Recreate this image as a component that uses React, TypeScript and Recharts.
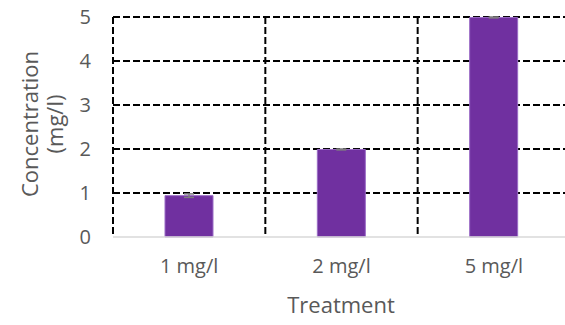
import React from "react";
import {
  BarChart,
  Bar,
  XAxis,
  YAxis,
  CartesianGrid,
  ErrorBar,
  Label,
} from "recharts";

const treatments = ["1 mg/l", "2 mg/l", "5 mg/l"];
const concentration = [0.94, 1.99, 4.99];
const errors = [0.04, 0.01, 0.01];
const yTicks = [0, 1, 2, 3, 4, 5];

const data = treatments.map((name, i) => ({
  name,
  value: concentration[i],
  err: errors[i],
}));

const textColor = "#595959";
const fontFamily = "'Open Sans', sans-serif";

const YTitle = (props: any) => {
  const vb = props.viewBox || {};
  const cy = vb.y + vb.height / 2 - 3;
  return (
    <g fill={textColor} fontFamily={fontFamily} fontSize={22}>
      <text x={38} y={cy} transform={`rotate(-90, 38, ${cy})`} textAnchor="middle">
        Concentration
      </text>
      <text x={63} y={cy} transform={`rotate(-90, 63, ${cy})`} textAnchor="middle">
        (mg/l)
      </text>
    </g>
  );
};

const XTitle = () => (
  <text
    x={341}
    y={313}
    fill={textColor}
    fontFamily={fontFamily}
    fontSize={22}
    textAnchor="middle"
  >
    Treatment
  </text>
);

export default function App() {
  return (
    <div
      style={{
        position: "absolute",
        left: 0,
        top: 0,
        width: 565,
        height: 325,
        overflow: "hidden",
        background: "#fff",
      }}
    >
      <BarChart
        width={580}
        height={325}
        data={data}
        margin={{ top: 17, right: 10, left: 0, bottom: 0 }}
      >
        <CartesianGrid
          stroke="#000"
          strokeWidth={2}
          strokeDasharray="7 3"
          horizontalValues={[1, 2, 3, 4, 5]}
          verticalCoordinatesGenerator={({ offset }: any) =>
            [0, 1, 2, 3].map((k) => offset.left + (k * offset.width) / 3)
          }
        />
        <XAxis
          dataKey="name"
          height={88}
          tickSize={0}
          tickMargin={22}
          axisLine={{ stroke: "#d9d9d9", strokeWidth: 1.5 }}
          tick={{ fill: textColor, fontSize: 20, fontFamily }}
        >
          <Label content={<XTitle />} />
        </XAxis>
        <YAxis
          width={113}
          domain={[0, 5]}
          ticks={yTicks}
          tickSize={0}
          tickMargin={22}
          axisLine={false}
          tick={{ fill: textColor, fontSize: 20, fontFamily }}
        >
          <Label content={<YTitle />} />
        </YAxis>
        <Bar
          dataKey="value"
          fill="#7030a0"
          stroke="#9b6cc6"
          strokeWidth={1}
          barSize={48}
          isAnimationActive={false}
        >
          <ErrorBar
            dataKey="err"
            width={5}
            stroke="#7f7f7f"
            strokeWidth={1.5}
            direction="y"
          />
        </Bar>
      </BarChart>
    </div>
  );
}
